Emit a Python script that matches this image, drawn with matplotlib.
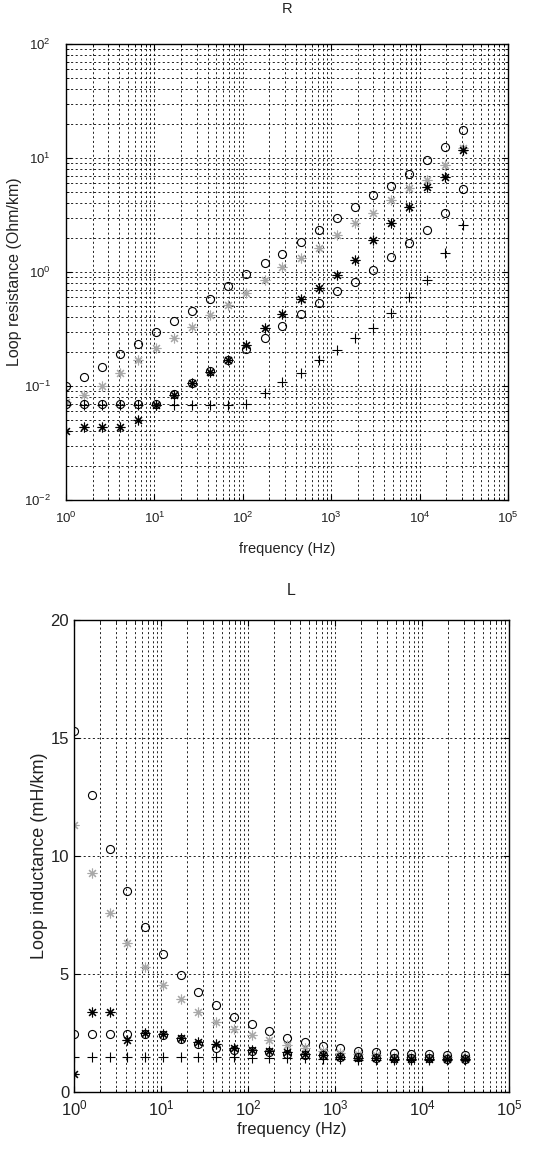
import matplotlib
matplotlib.use("Agg")
import matplotlib.pyplot as plt
import numpy as np
from matplotlib.ticker import LogLocator, FixedLocator

plt.rcParams['font.family'] = ['Liberation Sans Narrow', 'Liberation Sans', 'DejaVu Sans']

freq = [1, 1.6, 2.56, 4.1, 6.55, 10.5, 16.8, 26.8, 42.9, 68.7, 110, 176, 281,
        450, 720, 1150, 1840, 2950, 4720, 7560, 12100, 19300, 30900]

# Loop resistance (Ohm/km)
R_a = [0.10, 0.121, 0.148, 0.191, 0.233, 0.299, 0.374, 0.457, 0.576, 0.753, 0.951, 1.19,
       1.45, 1.84, 2.34, 2.96, 3.69, 4.73, 5.67, 7.19, 9.6, 12.6, 17.6]
R_b = [0.072, 0.083, 0.099, 0.130, 0.169, 0.214, 0.262, 0.327, 0.42, 0.514, 0.655, 0.851,
       1.11, 1.32, 1.61, 2.11, 2.68, 3.27, 4.28, 5.42, 6.41, 8.68, 12.2]
R_c = [0.070, 0.070, 0.070, 0.070, 0.070, 0.070, 0.085, 0.107, 0.135, 0.17, 0.21, 0.266,
       0.336, 0.427, 0.54, 0.686, 0.822, 1.04, 1.36, 1.79, 2.34, 3.27, 5.31]
R_d = [0.040, 0.044, 0.044, 0.044, 0.050, 0.068, 0.083, 0.106, 0.133, 0.169, 0.229, 0.321,
       0.427, 0.578, 0.719, 0.95, 1.27, 1.91, 2.67, 3.74, 5.6, 6.88, 11.8]
R_e = [0.068, 0.068, 0.068, 0.068, 0.068, 0.068, 0.068, 0.068, 0.068, 0.068, 0.070, 0.086,
       0.109, 0.129, 0.169, 0.207, 0.262, 0.321, 0.434, 0.607, 0.85, 1.46, 2.58]

# Loop inductance (mH/km)
L_a = [15.3, 12.6, 10.3, 8.5, 7.0, 5.85, 4.96, 4.25, 3.69, 3.19, 2.88, 2.6,
       2.3, 2.1, 1.95, 1.85, 1.75, 1.7, 1.65, 1.6, 1.6, 1.55, 1.55]
L_b = [11.3, 9.3, 7.6, 6.3, 5.31, 4.53, 3.93, 3.41, 2.98, 2.66, 2.42, 2.2,
       2.0, 1.85, 1.75, 1.65, 1.6, 1.55, 1.5, 1.5, 1.5, 1.5, 1.5]
L_c = [2.46, 2.46, 2.46, 2.46, 2.44, 2.4, 2.25, 2.05, 1.88, 1.78, 1.72, 1.68,
       1.62, 1.58, 1.55, 1.5, 1.48, 1.45, 1.45, 1.42, 1.42, 1.4, 1.4]
L_d = [0.75, 3.39, 3.4, 2.2, 2.5, 2.46, 2.3, 2.13, 2.05, 1.88, 1.8, 1.75,
       1.7, 1.62, 1.55, 1.5, 1.45, 1.42, 1.4, 1.38, 1.38, 1.38, 1.38]
L_e = [1.48, 1.48, 1.48, 1.48, 1.48, 1.48, 1.48, 1.48, 1.48, 1.48, 1.46, 1.45,
       1.43, 1.42, 1.4, 1.38, 1.36, 1.35, 1.35, 1.35, 1.35, 1.35, 1.35]

GRAY = '#a8a8a8'
ASTER = (8, 2, 0)
styles = [
    dict(marker='o', color='black', mfc='none', ms=5.8, mew=0.8),
    dict(marker=ASTER, color=GRAY, mfc='none', ms=7, mew=0.8),
    dict(marker='o', color='black', mfc='none', ms=5.8, mew=0.8),
    dict(marker=ASTER, color='black', mfc='none', ms=7, mew=0.8),
    dict(marker='+', color='black', mfc='none', ms=7, mew=0.8),
]

fig = plt.figure(figsize=(5.44, 11.52), dpi=100)
TXT = '#222222'
grid_kw = dict(color='black', linestyle=(0, (2.5, 3)), linewidth=0.6)

# ---- R plot ----
ax1 = fig.add_axes([66/544, 1-500/1152, 442/544, 456/1152])
for ys, st in zip([R_a, R_b, R_c, R_d, R_e], styles):
    ax1.plot(freq, ys, linestyle='none', **st)
ax1.set_xscale('log')
ax1.set_yscale('log')
ax1.set_xlim(1, 1e5)
ax1.set_ylim(1e-2, 1e2)
ax1.xaxis.set_major_locator(LogLocator(base=10, numticks=10))
ax1.yaxis.set_major_locator(LogLocator(base=10, numticks=10))
ax1.xaxis.set_minor_locator(LogLocator(base=10, subs=np.arange(2, 10), numticks=20))
ax1.yaxis.set_minor_locator(LogLocator(base=10, subs=np.arange(2, 10), numticks=20))
ax1.grid(True, which='both', **grid_kw)
ax1.set_title('R', fontsize=10.5, color=TXT, pad=22)
ax1.set_xlabel('frequency (Hz)', fontsize=10.5, color=TXT, labelpad=11)
ax1.set_ylabel('Loop resistance (Ohm/km)', fontsize=11.5, color=TXT, labelpad=1)

# ---- L plot ----
ax2 = fig.add_axes([74/544, 1-1092/1152, 435/544, 472/1152])
for ys, st in zip([L_a, L_b, L_c, L_d, L_e], styles):
    ax2.plot(freq, ys, linestyle='none', **st)
ax2.set_xscale('log')
ax2.set_xlim(1, 1e5)
ax2.set_ylim(0, 20)
ax2.yaxis.set_major_locator(FixedLocator([0, 5, 10, 15, 20]))
ax2.xaxis.set_major_locator(LogLocator(base=10, numticks=10))
ax2.xaxis.set_minor_locator(LogLocator(base=10, subs=np.arange(2, 10), numticks=20))
ax2.grid(True, which='both', axis='x', **grid_kw)
ax2.grid(True, which='major', axis='y', **grid_kw)
ax2.set_title('L', fontsize=11.5, color=TXT, pad=18)
ax2.set_xlabel('frequency (Hz)', fontsize=12, color=TXT, labelpad=2)
ax2.set_ylabel('Loop inductance (mH/km)', fontsize=13, color=TXT, labelpad=2)

for ax, fs in ((ax1, 9.5), (ax2, 12)):
    ax.tick_params(which='both', direction='in', top=True, right=True,
                   labelsize=fs, labelcolor=TXT)
    ax.tick_params(which='major', length=4)
    ax.tick_params(which='minor', length=2)
    for s in ax.spines.values():
        s.set_linewidth(1.0)
ax1.tick_params(axis='x', which='major', pad=8)
ax1.tick_params(axis='y', which='major', pad=11)
ax2.tick_params(axis='x', which='major', pad=5)

fig.savefig('out.png', dpi=100, facecolor='white')
